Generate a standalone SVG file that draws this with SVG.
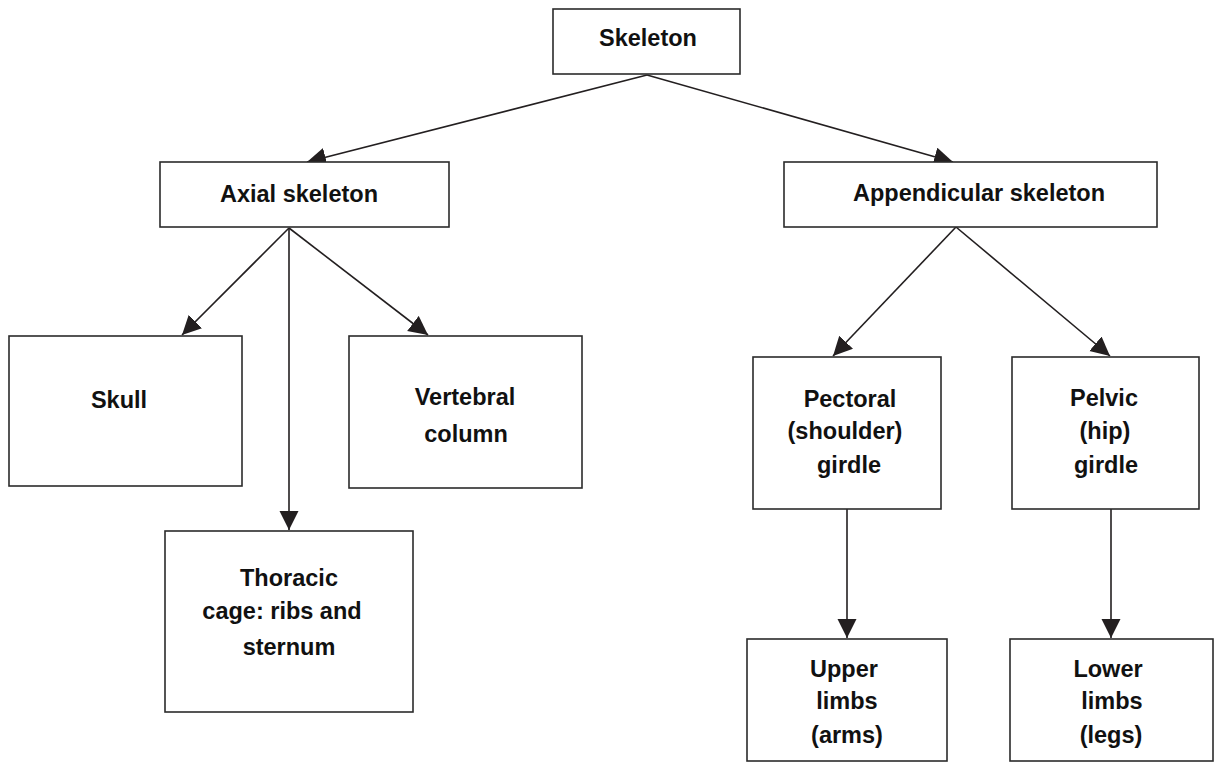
<svg xmlns="http://www.w3.org/2000/svg" width="1216" height="763" viewBox="0 0 1216 763">
  <style>
    .box { fill: #ffffff; stroke: #2b2b2b; stroke-width: 1.6; }
    .lbl { font-family: "Liberation Sans", Arial, sans-serif; font-weight: bold; font-size: 23.5px; fill: #111111; text-anchor: middle; }
    .edge { stroke: #231f20; stroke-width: 1.6; fill: none; marker-end: url(#head); }
  </style>
  <defs>
    <marker id="head" markerUnits="userSpaceOnUse" markerWidth="20" markerHeight="20" refX="19" refY="9.5" orient="auto">
      <path d="M0,0 L19,9.5 L0,19 z" fill="#231f20"/>
    </marker>
  </defs>
  <rect width="1216" height="763" fill="#ffffff"/>

  <!-- connectors -->
  <g id="connectors">
    <line class="edge" x1="647" y1="75" x2="307" y2="162"/>
    <line class="edge" x1="647" y1="75" x2="953" y2="162"/>
    <line class="edge" x1="289" y1="228" x2="182" y2="335"/>
    <line class="edge" x1="289" y1="228" x2="289" y2="530"/>
    <line class="edge" x1="289" y1="228" x2="428" y2="335"/>
    <line class="edge" x1="956" y1="227" x2="833" y2="356"/>
    <line class="edge" x1="956" y1="227" x2="1110" y2="356"/>
    <line class="edge" x1="847" y1="509" x2="847" y2="638"/>
    <line class="edge" x1="1111" y1="509" x2="1111" y2="638"/>
  </g>

  <!-- nodes -->
  <g id="skeleton">
    <rect class="box" x="553" y="9" width="187" height="65"/>
    <text class="lbl" x="648" y="46">Skeleton</text>
  </g>
  <g id="axial">
    <rect class="box" x="160" y="162" width="289" height="65"/>
    <text class="lbl" x="299" y="202">Axial skeleton</text>
  </g>
  <g id="appendicular">
    <rect class="box" x="784" y="162" width="373" height="65"/>
    <text class="lbl" x="979" y="201">Appendicular skeleton</text>
  </g>
  <g id="skull">
    <rect class="box" x="9" y="336" width="233" height="150"/>
    <text class="lbl" x="119" y="408">Skull</text>
  </g>
  <g id="vertebral">
    <rect class="box" x="349" y="336" width="233" height="152"/>
    <text class="lbl" x="465" y="405">Vertebral</text>
    <text class="lbl" x="466" y="442">column</text>
  </g>
  <g id="thoracic">
    <rect class="box" x="165" y="531" width="248" height="181"/>
    <text class="lbl" x="289" y="586">Thoracic</text>
    <text class="lbl" x="282" y="619">cage: ribs and</text>
    <text class="lbl" x="289" y="655">sternum</text>
  </g>
  <g id="pectoral">
    <rect class="box" x="753" y="357" width="188" height="152"/>
    <text class="lbl" x="850" y="407">Pectoral</text>
    <text class="lbl" x="845" y="439">(shoulder)</text>
    <text class="lbl" x="849" y="473">girdle</text>
  </g>
  <g id="pelvic">
    <rect class="box" x="1012" y="357" width="187" height="152"/>
    <text class="lbl" x="1104" y="406">Pelvic</text>
    <text class="lbl" x="1105" y="439">(hip)</text>
    <text class="lbl" x="1106" y="473">girdle</text>
  </g>
  <g id="upper-limbs">
    <rect class="box" x="747" y="639" width="200" height="122"/>
    <text class="lbl" x="844" y="677">Upper</text>
    <text class="lbl" x="847" y="709">limbs</text>
    <text class="lbl" x="847" y="743">(arms)</text>
  </g>
  <g id="lower-limbs">
    <rect class="box" x="1010" y="639" width="203" height="122"/>
    <text class="lbl" x="1108" y="677">Lower</text>
    <text class="lbl" x="1112" y="709">limbs</text>
    <text class="lbl" x="1111" y="743">(legs)</text>
  </g>
</svg>
